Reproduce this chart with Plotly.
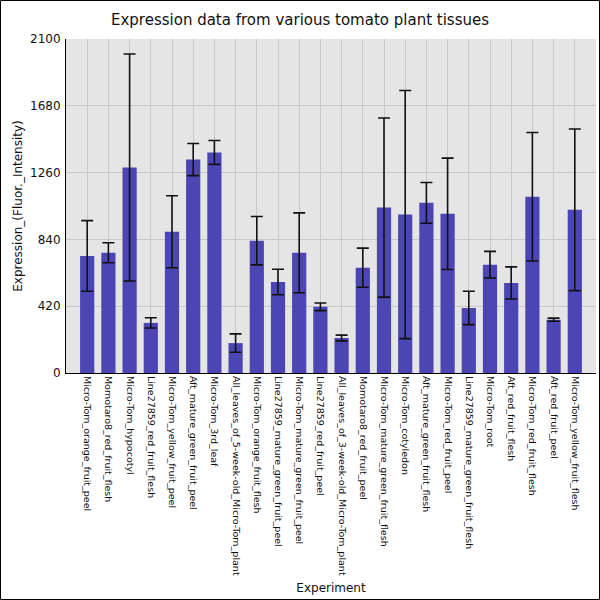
import plotly.graph_objects as go

categories = [
    "Micro-Tom_orange_fruit_peel", "Momotaro8_red_fruit_flesh", "Micro-Tom_hypocotyl",
    "Line27859_red_fruit_flesh", "Micro-Tom_yellow_fruit_peel", "Aft_mature_green_fruit_peel",
    "Micro-Tom_3rd_leaf", "All_leaves_of_5-week-old_Micro-Tom_plant", "Micro-Tom_orange_fruit_flesh",
    "Line27859_mature_green_fruit_peel", "Micro-Tom_mature_green_fruit_peel", "Line27859_red_fruit_peel",
    "All_leaves_of_3-week-old_Micro-Tom_plant", "Momotaro8_red_fruit_peel",
    "Micro-Tom_mature_green_fruit_flesh", "Micro-Tom_cotyledon", "Aft_mature_green_fruit_flesh",
    "Micro-Tom_red_fruit_peel", "Line27859_mature_green_fruit_flesh", "Micro-Tom_root",
    "Aft_red_fruit_flesh", "Micro-Tom_red_fruit_flesh", "Aft_red_fruit_peel",
    "Micro-Tom_yellow_fruit_flesh",
]
values = [736, 756, 1292, 315, 888, 1342, 1387, 188, 832, 572, 756, 416,
          220, 662, 1040, 996, 1070, 1001, 409, 681, 566, 1108, 335, 1026]
errors = [222, 63, 714, 32, 226, 101, 75, 58, 152, 80, 251, 24,
          18, 123, 563, 780, 128, 350, 105, 84, 101, 404, 10, 508]
y_ticks = [0, 420, 840, 1260, 1680, 2100]

fig = go.Figure()
fig.add_trace(go.Bar(
    x=categories, y=values, width=0.67,
    marker=dict(color="#4b46b4", line=dict(width=0)),
    error_y=dict(type="data", array=errors, visible=True, color="#111111",
                 thickness=1.6, width=6),
))

L, R, T, B = 66, 4, 39, 227
pw, ph = 600 - L - R, 600 - T - B

fig.update_layout(
    width=600, height=600,
    margin=dict(l=L, r=R, t=T, b=B, autoexpand=False),
    paper_bgcolor="white", plot_bgcolor="#e5e5e5",
    font=dict(family="DejaVu Sans", color="#111111"),
    title=dict(text="Expression data from various tomato plant tissues",
               x=0.5, xanchor="center", xref="container", y=1 - 20 / 600, yanchor="middle",
               font=dict(size=15, color="#111111")),
    showlegend=False,
)
fig.update_xaxes(
    type="category", range=[-1, len(categories)], automargin=False,
    tickangle=90, tickfont=dict(size=9.5, family="DejaVu Sans"),
    showgrid=True, gridcolor="#c8c8c8", gridwidth=1,
    showline=True, linecolor="black", linewidth=1,
    ticks="", title=dict(text="Experiment", font=dict(size=12), standoff=8),
)
fig.update_yaxes(
    range=[0, 2100], tickvals=y_ticks, ticktext=[str(v) for v in y_ticks],
    tickfont=dict(size=12), automargin=False,
    showgrid=True, gridcolor="#c8c8c8", gridwidth=1, zeroline=False,
    showline=True, linecolor="black", linewidth=1,
    ticks="", ticklabelstandoff=2,
    title=dict(text="Expression_(Fluor._Intensity)", font=dict(size=12), standoff=4),
)
# outer border of the image
fig.add_shape(type="rect", xref="paper", yref="paper",
              x0=-(L - 0.5) / pw, x1=1 + (R - 0.5) / pw,
              y0=-(B - 0.5) / ph, y1=1 + (T - 0.5) / ph,
              line=dict(color="black", width=1), layer="above")

fig.write_html("out.html", config={"displayModeBar": False},
               post_script="document.body.style.margin='0';document.body.style.overflow='hidden';")
